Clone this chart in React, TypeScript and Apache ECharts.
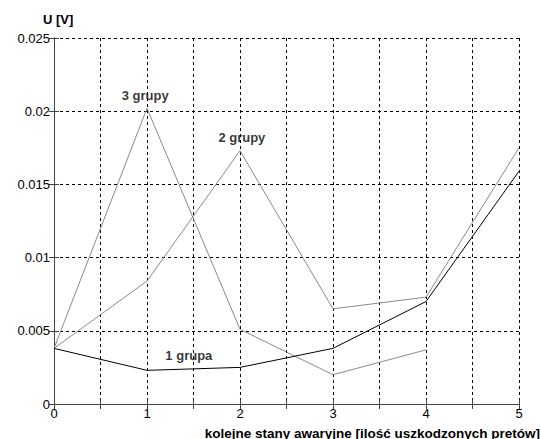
import React, { useEffect, useRef } from "react";
import * as echarts from "echarts";

const xValues = [0, 1, 2, 3, 4, 5];
const grupa1 = [0.0038, 0.0023, 0.0025, 0.0038, 0.0070, 0.0159];
const grupy2 = [0.0038, 0.0084, 0.0173, 0.0065, 0.0073, 0.0175];
const grupy3 = [0.0038, 0.0202, 0.0051, 0.0020, 0.0037];
const labelTexts = ["3 grupy", "2 grupy", "1 grupa"];
const labelX = [0.98, 2.02, 1.45];
const labelY = [0.0211, 0.0182, 0.0033];
const yTitle = "U [V]";
const xTitle = "kolejne stany awaryjne [ilość uszkodzonych pretów]";

const FONT = "Liberation Sans, Arial, sans-serif";

export default function App() {
  const ref = useRef<HTMLDivElement>(null);
  useEffect(() => {
    if (!ref.current) return;
    const chart = echarts.init(ref.current, undefined, { renderer: "svg" });
    const pair = (ys: number[]) => ys.map((v, i) => [xValues[i], v]);
    const axisLine = { show: true, lineStyle: { color: "#444", width: 1 } };
    const split = { show: true, lineStyle: { color: "#000", type: [3, 3] as any, width: 1 } };
    chart.setOption({
      animation: false,
      backgroundColor: "#fff",
      grid: { left: 54, right: 22, top: 38, bottom: 35, show: false },
      xAxis: [
        {
          type: "value", min: 0, max: 5, interval: 0.5,
          axisLine, axisTick: { show: true, inside: true, length: 5, lineStyle: { color: "#444" } },
          splitLine: split,
          axisLabel: {
            color: "#000", fontFamily: FONT, fontSize: 13, margin: 3,
            formatter: (v: number) => (Number.isInteger(v) ? String(v) : ""),
          },
        },
        {
          type: "value", min: 0, max: 5, interval: 0.5, position: "top",
          axisLine, axisTick: { show: true, inside: true, length: 5, lineStyle: { color: "#444" } },
          splitLine: { show: false }, axisLabel: { show: false },
        },
      ],
      yAxis: [
        {
          type: "value", min: 0, max: 0.025, interval: 0.005,
          axisLine, axisTick: { show: true, inside: true, length: 5, lineStyle: { color: "#444" } },
          splitLine: split,
          axisLabel: {
            color: "#000", fontFamily: FONT, fontSize: 13, margin: 4,
            formatter: (v: number) => String(parseFloat(v.toFixed(4))),
          },
        },
        {
          type: "value", min: 0, max: 0.025, interval: 0.005, position: "right",
          axisLine, axisTick: { show: true, inside: true, length: 5, lineStyle: { color: "#444" } },
          splitLine: { show: false }, axisLabel: { show: false },
        },
      ],
      series: [
        {
          type: "line", name: "3 grupy", data: pair(grupy3), symbol: "none",
          lineStyle: { color: "#8a8a8a", width: 1 },
        },
        {
          type: "line", name: "2 grupy", data: pair(grupy2), symbol: "none",
          lineStyle: { color: "#8a8a8a", width: 1 },
        },
        {
          type: "line", name: "1 grupa", data: pair(grupa1), symbol: "none",
          lineStyle: { color: "#000", width: 1 }, z: 3,
        },
        {
          type: "scatter", symbolSize: 0,
          data: labelTexts.map((t, i) => ({ value: [labelX[i], labelY[i]], name: t })),
          label: {
            show: true, position: "inside", formatter: (p: any) => p.name,
            color: "#000", fontFamily: FONT, fontWeight: "bold", fontSize: 13,
          },
          z: 5,
        },
      ],
      graphic: [
        {
          type: "text", left: 43, top: 13,
          style: { text: yTitle, fill: "#000", font: `bold 13px ${FONT}` },
        },
        {
          type: "text", right: 1, top: 426,
          style: { text: xTitle, fill: "#000", font: `bold 13.5px ${FONT}` },
        },
      ],
    });
    return () => chart.dispose();
  }, []);
  return <div ref={ref} style={{ width: 541, height: 439, position: "absolute", left: 0, top: 0 }} />;
}
